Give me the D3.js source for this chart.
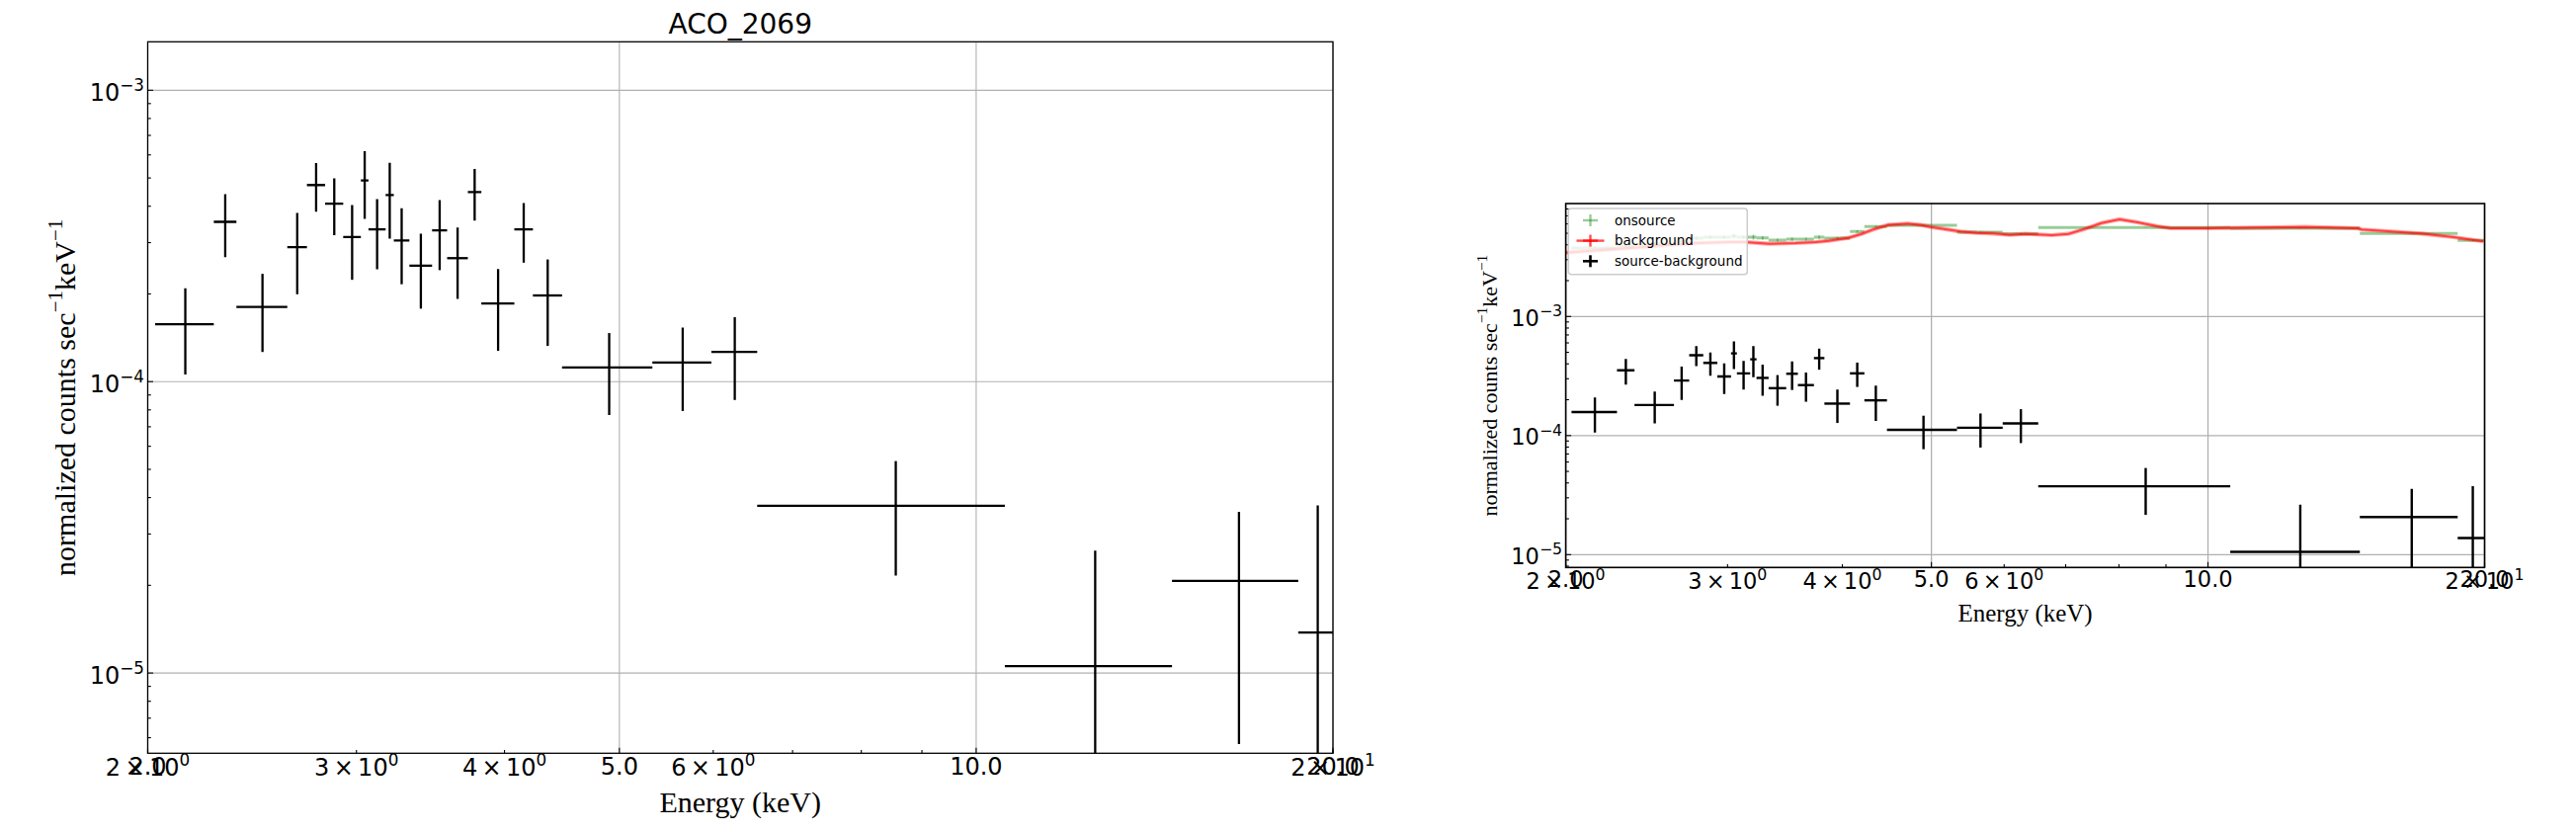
<!DOCTYPE html>
<html><head><meta charset="utf-8">
<script src="https://cdn.jsdelivr.net/npm/d3@7"></script>
<style>
html,body{margin:0;padding:0;background:#fff;}
svg{display:block;}
</style></head>
<body>
<svg id="chart" width="2607" height="842"></svg>
<script>
// ---------------- data ----------------
const binLo  = [2.029, 2.274, 2.376, 2.623, 2.725, 2.823, 2.924, 3.026, 3.071, 3.175, 3.226, 3.325, 3.475, 3.578, 3.725, 3.824, 4.077, 4.227, 4.473, 5.331, 5.978, 6.535, 10.573, 14.630, 18.695];
const binHi  = [2.274, 2.376, 2.623, 2.725, 2.823, 2.924, 3.026, 3.071, 3.175, 3.226, 3.325, 3.475, 3.578, 3.725, 3.824, 4.077, 4.227, 4.473, 5.331, 5.978, 6.535, 10.573, 14.630, 18.695, 20.14];
const srcVal = [1.574e-4, 3.535e-4, 1.804e-4, 2.895e-4, 4.728e-4, 4.08e-4, 3.136e-4, 4.899e-4, 3.33e-4, 4.366e-4, 3.049e-4, 2.5e-4, 3.304e-4, 2.653e-4, 4.472e-4, 1.855e-4, 3.33e-4, 1.976e-4, 1.118e-4, 1.163e-4, 1.265e-4, 3.749e-5, 1.056e-5, 2.071e-5, 1.378e-5];
const srcErr = [0.516e-4, 0.86e-4, 0.54e-4, 0.90e-4, 0.90e-4, 0.90e-4, 0.90e-4, 1.28e-4, 0.90e-4, 1.27e-4, 0.89e-4, 0.72e-4, 0.89e-4, 0.73e-4, 0.90e-4, 0.58e-4, 0.77e-4, 0.65e-4, 0.35e-4, 0.37e-4, 0.40e-4, 1.59e-5, 1.574e-5, 1.50e-5, 2.38e-5];
const onVal  = [3.759e-3, 3.906e-3, 4.058e-3, 4.297e-3, 4.550e-3, 4.638e-3, 4.638e-3, 4.727e-3, 4.638e-3, 4.638e-3, 4.577e-3, 4.380e-3, 4.465e-3, 4.465e-3, 4.638e-3, 4.550e-3, 5.172e-3, 5.690e-3, 5.834e-3, 5.104e-3, 4.941e-3, 5.583e-3, 5.509e-3, 4.978e-3, 4.355e-3];
const onErr  = [0.08e-3, 0.14e-3, 0.09e-3, 0.14e-3, 0.15e-3, 0.15e-3, 0.15e-3, 0.22e-3, 0.15e-3, 0.22e-3, 0.15e-3, 0.12e-3, 0.15e-3, 0.12e-3, 0.16e-3, 0.10e-3, 0.14e-3, 0.12e-3, 0.06e-3, 0.07e-3, 0.08e-3, 0.03e-3, 0.03e-3, 0.04e-3, 0.06e-3];
const bkgE   = [2.00, 2.168, 2.355, 2.558, 2.778, 3.016, 3.136, 3.330, 3.558, 3.739, 3.864, 4.061, 4.197, 4.338, 4.484, 4.711, 4.869, 4.990, 5.158, 5.377, 5.604, 5.840, 6.086, 6.331, 6.763, 7.049, 7.346, 7.656, 8.011, 8.383, 8.809, 9.105, 9.967, 11.28, 12.77, 14.57, 14.69, 15.69, 17.04, 18.51, 19.94];
const bkgVal = [3.44e-3, 3.597e-3, 3.759e-3, 3.958e-3, 4.136e-3, 4.216e-3, 4.216e-3, 4.081e-3, 4.136e-3, 4.216e-3, 4.322e-3, 4.577e-3, 4.94e-3, 5.437e-3, 5.868e-3, 6.027e-3, 5.868e-3, 5.648e-3, 5.437e-3, 5.172e-3, 5.036e-3, 4.978e-3, 4.847e-3, 4.94e-3, 4.819e-3, 4.94e-3, 5.437e-3, 6.095e-3, 6.54e-3, 6.178e-3, 5.723e-3, 5.51e-3, 5.51e-3, 5.58e-3, 5.648e-3, 5.51e-3, 5.374e-3, 5.202e-3, 4.978e-3, 4.638e-3, 4.272e-3];

const majorXTicks  = [2, 5, 10, 20];
const majorXLabels = ["2.0", "5.0", "10.0", "20.0"];
const minorXTicks  = [2, 3, 4, 6, 7, 8, 9, 20];
const minorXMant   = ["2", "3", "4", "6", null, null, null, "2"];
const minorXExp    = ["0", "0", "0", "0", null, null, null, "1"];
const yMajorTicks  = [1e-3, 1e-4, 1e-5];
const yMajorExp    = ["−3", "−4", "−5"];
const legendLabels = ["onsource", "background", "source-background"];
const titleText = "ACO_2069";
const xLabelText = "Energy (keV)";
const yLabelParts = ["normalized counts sec", "−1", "keV", "−1"];
const xDomain = [2, 20];
const yDomainLeft  = [5.305e-6, 1.4665e-3];
const yDomainRight = [7.80e-6, 8.88e-3];

// ---------------- layout ----------------
const svg = d3.select("#chart");
const SANS = "'DejaVu Sans', sans-serif";
const SERIF = "'Liberation Serif', 'Times New Roman', serif";

const panels = [
  {id:"L", x0:149.5, x1:1349, y0:42.3, y1:762.3, yDom:yDomainLeft, tickFs:24, xlabFs:30, ylabFs:30,
   xlabY:822.4, ylabX:75.5, plainOff:21.3, sciOff:22.7, yTickOff:10.6, crossW:2.3, gridW:1.1, spineW:1.3,
   background:false, legend:false, title:true},
  {id:"R", x0:1584.6, x1:2514.5, y0:206, y1:574.3, yDom:yDomainRight, tickFs:22.5, xlabFs:25, ylabFs:22,
   xlabY:628.8, ylabX:1514.6, plainOff:20, sciOff:21.7, yTickOff:9.4, crossW:2.4, gridW:1.3, spineW:1.6,
   background:true, legend:true, title:false}
];

function addSci(text, mant, exp, fs) {
  const gap = fs * 0.18;
  if (mant !== null) {
    text.append("tspan").text(mant);
    text.append("tspan").attr("dx", gap).text("×");
    text.append("tspan").attr("dx", gap).text("10");
  } else {
    text.append("tspan").text("10");
  }
  text.append("tspan").attr("font-size", fs * 0.7).attr("dy", -fs * 0.42).text(exp);
}

panels.forEach(p => {
  const x = d3.scaleLog().domain(xDomain).range([p.x0, p.x1]);
  const y = d3.scaleLog().domain(p.yDom).range([p.y1, p.y0]);
  const g = svg.append("g");

  const clipId = "clip" + p.id;
  svg.append("defs").append("clipPath").attr("id", clipId)
    .append("rect").attr("x", p.x0).attr("y", p.y0).attr("width", p.x1 - p.x0).attr("height", p.y1 - p.y0);

  // grid
  const grid = g.append("g").attr("stroke", "#b0b0b0").attr("stroke-width", p.gridW);
  majorXTicks.forEach(t => {
    grid.append("line").attr("x1", x(t)).attr("x2", x(t)).attr("y1", p.y0).attr("y2", p.y1);
  });
  yMajorTicks.forEach(t => {
    grid.append("line").attr("x1", p.x0).attr("x2", p.x1).attr("y1", y(t)).attr("y2", y(t));
  });

  const data = g.append("g").attr("clip-path", `url(#${clipId})`);

  if (p.background) {
    // onsource (green)
    const on = data.append("g").attr("stroke", "green").attr("stroke-opacity", 0.4).attr("stroke-width", 3);
    binLo.forEach((lo, i) => {
      const hi = binHi[i], c = (lo + hi) / 2, v = onVal[i], e = onErr[i];
      on.append("line").attr("x1", x(lo)).attr("x2", x(hi)).attr("y1", y(v)).attr("y2", y(v));
      on.append("line").attr("x1", x(c)).attr("x2", x(c)).attr("y1", y(v + e)).attr("y2", y(v - e)).attr("stroke-width", 1.6);
    });
    // background (red)
    const line = d3.line().x((d, i) => x(bkgE[i])).y((d, i) => y(bkgVal[i])).curve(d3.curveLinear);
    data.append("path").datum(bkgVal).attr("d", line).attr("fill", "none")
      .attr("stroke", "red").attr("stroke-opacity", 0.35).attr("stroke-width", 4.2);
    data.append("path").datum(bkgVal).attr("d", line).attr("fill", "none")
      .attr("stroke", "red").attr("stroke-opacity", 0.6).attr("stroke-width", 2);
  }

  // source - background (black crosses)
  const cr = data.append("g").attr("stroke", "#000").attr("stroke-width", p.crossW);
  binLo.forEach((lo, i) => {
    const hi = binHi[i], c = (lo + hi) / 2, v = srcVal[i], e = srcErr[i];
    const low = v - e;
    cr.append("line").attr("x1", x(lo)).attr("x2", x(hi)).attr("y1", y(v)).attr("y2", y(v));
    cr.append("line").attr("x1", x(c)).attr("x2", x(c))
      .attr("y1", y(v + e)).attr("y2", low > 0 ? y(low) : p.y1 + 10);
  });

  // ticks (inward)
  const tk = g.append("g").attr("stroke", "#000").attr("stroke-width", 1.1);
  majorXTicks.forEach(t => {
    tk.append("line").attr("x1", x(t)).attr("x2", x(t)).attr("y1", p.y1).attr("y2", p.y1 - 5.5);
  });
  minorXTicks.forEach(t => {
    tk.append("line").attr("x1", x(t)).attr("x2", x(t)).attr("y1", p.y1).attr("y2", p.y1 - 3.3);
  });
  for (let d = 1e-7; d < 1; d *= 10) {
    for (let m = 1; m <= 9; m++) {
      const v = m * d;
      if (v < p.yDom[0] || v > p.yDom[1]) continue;
      const len = m === 1 ? 5.5 : 3.3;
      tk.append("line").attr("x1", p.x0).attr("x2", p.x0 + len).attr("y1", y(v)).attr("y2", y(v));
    }
  }

  // spines
  g.append("rect").attr("x", p.x0).attr("y", p.y0).attr("width", p.x1 - p.x0).attr("height", p.y1 - p.y0)
    .attr("fill", "none").attr("stroke", "#000").attr("stroke-width", p.spineW);

  // x tick labels
  const lab = g.append("g").attr("font-family", SANS).attr("font-size", p.tickFs).attr("fill", "#000");
  majorXTicks.forEach((t, i) => {
    lab.append("text").attr("x", x(t)).attr("y", p.y1 + p.plainOff).attr("text-anchor", "middle").text(majorXLabels[i]);
  });
  minorXTicks.forEach((t, i) => {
    if (minorXMant[i] === null) return;
    const tx = lab.append("text").attr("x", x(t)).attr("y", p.y1 + p.sciOff).attr("text-anchor", "middle");
    addSci(tx, minorXMant[i], minorXExp[i], p.tickFs);
  });
  // y tick labels
  yMajorTicks.forEach((t, i) => {
    const tx = lab.append("text").attr("x", p.x0 - 3.5).attr("y", y(t) + p.yTickOff).attr("text-anchor", "end");
    addSci(tx, null, yMajorExp[i], p.tickFs);
  });

  // axis labels
  g.append("text").attr("x", (p.x0 + p.x1) / 2).attr("y", p.xlabY).attr("text-anchor", "middle")
    .attr("font-family", SERIF).attr("font-size", p.xlabFs).text(xLabelText);
  const yc = (p.y0 + p.y1) / 2;
  const yl = g.append("text").attr("transform", `translate(${p.ylabX},${yc}) rotate(-90)`)
    .attr("text-anchor", "middle").attr("font-family", SERIF).attr("font-size", p.ylabFs);
  const sh = p.ylabFs * 0.42, ss = p.ylabFs * 0.7;
  yl.append("tspan").text(yLabelParts[0]);
  yl.append("tspan").attr("font-size", ss).attr("dy", -sh).text(yLabelParts[1]);
  yl.append("tspan").attr("dy", sh).text(yLabelParts[2]);
  yl.append("tspan").attr("font-size", ss).attr("dy", -sh).text(yLabelParts[3]);

  if (p.title) {
    g.append("text").attr("x", (p.x0 + p.x1) / 2).attr("y", 34).attr("text-anchor", "middle")
      .attr("font-family", SANS).attr("font-size", 28).text(titleText);
  }

  if (p.legend) {
    const lg = g.append("g");
    const bx = p.x0 + 2.7, by = p.y0 + 5, bw = 181, bh = 66.7;
    lg.append("rect").attr("x", bx).attr("y", by).attr("width", bw).attr("height", bh).attr("rx", 3)
      .attr("fill", "#fff").attr("fill-opacity", 0.8).attr("stroke", "#cccccc").attr("stroke-width", 1.5);
    const hx = bx + 22.2, tx = bx + 46.7;
    const base = [by + 16.7, by + 37.3, by + 58];
    const styles = [
      {c: "green", o: 0.4, w: 2.4, line: false},
      {c: "red", o: 0.7, w: 2.4, line: true},
      {c: "#000", o: 1, w: 2.6, line: false}
    ];
    legendLabels.forEach((t, i) => {
      const cy = base[i] - 4.7, s = styles[i];
      const h = lg.append("g").attr("stroke", s.c).attr("stroke-opacity", s.o).attr("stroke-width", s.w);
      if (s.line) h.append("line").attr("x1", hx - 14).attr("x2", hx + 14).attr("y1", cy).attr("y2", cy);
      h.append("line").attr("x1", hx - 7.5).attr("x2", hx + 7.5).attr("y1", cy).attr("y2", cy);
      h.append("line").attr("x1", hx).attr("x2", hx).attr("y1", cy - 6).attr("y2", cy + 6);
      lg.append("text").attr("x", tx).attr("y", base[i]).attr("font-family", SANS).attr("font-size", 13.5)
        .attr("fill", "#000").text(t);
    });
  }
});
</script>
</body></html>
